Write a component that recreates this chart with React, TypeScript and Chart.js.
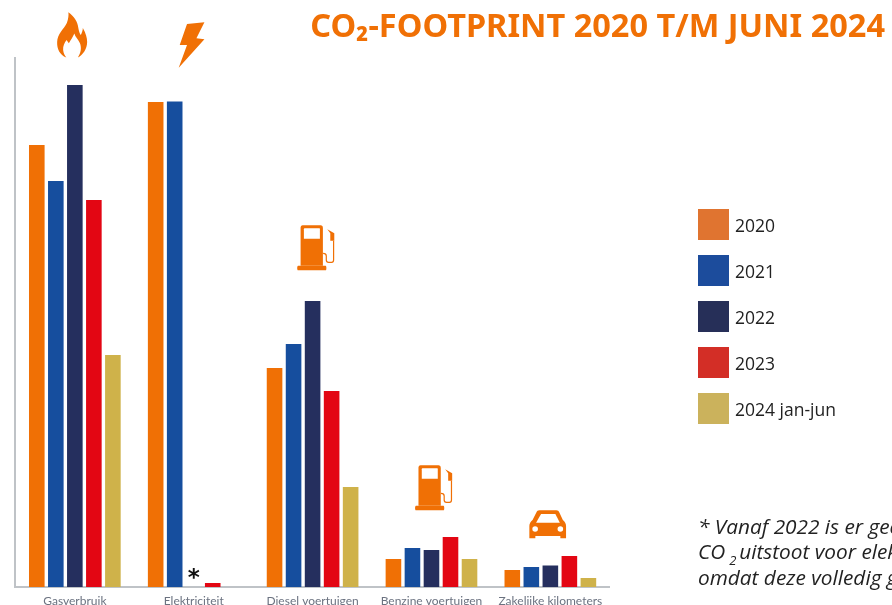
import React, { useEffect, useRef } from "react";
import { Chart, registerables } from "chart.js";

Chart.register(...registerables);

const categories = ["Gasverbruik", "Elektriciteit", "Diesel voertuigen", "Benzine voertuigen", "Zakelijke kilometers"];
const seriesNames = ["2020", "2021", "2022", "2023", "2024 jan-jun"];
const v2020 = [442, 485, 219, 28, 17];
const v2021 = [406, 485.5, 243, 39, 20];
const v2022 = [502, 0, 286, 37, 21.5];
const v2023 = [387, 4, 196, 50, 31];
const v2024 = [232, null, 100, 28, 9];
const barColors = ["#F07005", "#164E9E", "#252F5E", "#E30613", "#CFB24A"];
const legendColors = ["#E07430", "#1C4C9C", "#262F58", "#D32E26", "#CBB25C"];
const titleText = "CO₂-FOOTPRINT 2020 T/M JUNI 2024";
const ORANGE = "#F07005";

const drawFlame = (c: CanvasRenderingContext2D) => {
  c.fillStyle = ORANGE;
  c.fill(new Path2D("M9.5 45.5C3 43 0 37 .3 30C.5 22 7 17 10 11C11.5 7 12 3 11.5 .3C17 4 21 10 21.5 16C22 19 23 22 24 23C25 21 26 18 26 16C29 21 30.3 26 30.3 30C30.3 37 26 43 21 45.5C24 41 25 36 23 31C21 27 18.5 25 17.5 21.5C16 25 14 28 12 31.3L9.7 28C7.5 31 6 34 6.3 38C6.6 41 8 44 9.5 45.5Z"));
};
const drawBolt = (c: CanvasRenderingContext2D) => {
  c.fillStyle = ORANGE;
  c.fill(new Path2D("M8.3 2L25.7 .3L17.7 16.3L25.7 17.3L0 45.7L8.3 23L1 23Z"));
};
const drawPump = (c: CanvasRenderingContext2D) => {
  c.fillStyle = ORANGE;
  c.fill(new Path2D("M6 .3H24C25.5 .3 26.3 1.3 26.3 3V40.7H4V3C4 1.3 4.8 .3 6 .3Z"));
  c.fill(new Path2D("M1.5 40.7H29C30 40.7 30 45.3 29 45.3H1.5C.3 45.3 .3 40.7 1.5 40.7Z"));
  c.fill(new Path2D("M30.7 4.3L37.7 8.3V15.7H33.7V8.3Z"));
  c.fillStyle = "#FFFFFF";
  c.fill(new Path2D("M8 3.3H22.6C23.2 3.3 23.3 3.6 23.3 4.2V13.7H7.3V4.2C7.3 3.6 7.5 3.3 8 3.3Z"));
  c.strokeStyle = ORANGE;
  c.lineWidth = 1.2;
  c.stroke(new Path2D("M26.5 28.3C28.8 28.3 29.7 29 29.7 31V35C29.7 36.6 30.5 37.3 32 37.3H35C36.5 37.3 37 36.6 37 35V15.7"));
};
const drawCar = (c: CanvasRenderingContext2D) => {
  c.fillStyle = ORANGE;
  c.fill(new Path2D("M10 .3H27C28.5 .3 29.3 1 30 2.5L33.5 10C35.5 11.5 36.7 13.5 36.7 16V28.3H31V26H6V28.3H0V16C0 13.5 1.2 11.5 3.2 10L7 2.5C7.7 1 8.5 .3 10 .3Z"));
  c.fillStyle = "#FFFFFF";
  c.fill(new Path2D("M11.7 4H26L30.5 12.7H6.7Z"));
  c.beginPath(); c.arc(5.8, 19, 2.8, 0, Math.PI * 2); c.fill();
  c.beginPath(); c.arc(31, 19, 2.8, 0, Math.PI * 2); c.fill();
};

const iconDraw = [drawFlame, drawBolt, drawPump, drawPump, drawCar];
const iconOffsets = [-18, -15, -16, -17, -21];
const iconTopValues = [575, 565, 362, 122, 77];

const footnotePlugin = {
  id: "extras",
  afterLayout(chart: any) {
    const t = chart.titleBlock;
    if (t) { t.right = 885; }
    const l = chart.legend;
    if (l) {
      l.left = 698 - l.options.labels.padding;
      l.top = 316.5 - l.height / 2;
      l.right = l.left + l.width;
      l.bottom = l.top + l.height;
      if (!l.__shifted) {
        l.__shifted = true;
        const draw = l.draw;
        l.draw = function () {
          const ctx = chart.ctx;
          const fill = ctx.fillText;
          ctx.fillText = (s: string, px: number, py: number, m?: number) =>
            m === undefined ? fill.call(ctx, s, px - 2.75, py + 2.5) : fill.call(ctx, s, px - 2.75, py + 2.5, m);
          draw.call(this);
          delete ctx.fillText;
        };
      }
    }
  },
  afterDraw(chart: any) {
    const c: CanvasRenderingContext2D = chart.ctx;
    const x = chart.scales.x;
    const y = chart.scales.y;
    iconDraw.forEach((draw, i) => {
      c.save();
      c.translate(x.getPixelForValue(i) + iconOffsets[i], y.getPixelForValue(iconTopValues[i]));
      draw(c);
      c.restore();
    });
    c.save();
    c.fillStyle = "#111111";
    c.textAlign = "center";
    c.textBaseline = "alphabetic";
    c.font = 'bold 23px "DejaVu Sans"';
    c.fillText("*", x.getPixelForValue(1), y.getPixelForValue(12) + 9.9);
    c.restore();

    c.save();
    c.fillStyle = "#222222";
    c.textAlign = "left";
    c.font = 'italic 20.8px "Open Sans"';
    c.fillText("* Vanaf 2022 is er geen", 698, 534);
    c.fillText("CO", 698, 559);
    const w = c.measureText("CO").width;
    c.font = 'italic 13px "Open Sans"';
    c.fillText("2", 698 + w + 4, 565);
    c.font = 'italic 20.8px "Open Sans"';
    c.fillText("uitstoot voor elektriciteit", 698 + w + 14, 559);
    c.fillText("omdat deze volledig groen is", 698, 584.5);
    c.restore();
  },
};

export default function App() {
  const ref = useRef<HTMLCanvasElement>(null);
  useEffect(() => {
    if (!ref.current) return;
    const values = [v2020, v2021, v2022, v2023, v2024];
    const chart = new Chart(ref.current, {
      type: "bar",
      data: {
        labels: categories,
        datasets: seriesNames.map((name, i) => ({
          label: name,
          data: values[i],
          backgroundColor: barColors[i],
          categoryPercentage: 0.8,
          barPercentage: 0.82,
        })),
      },
      options: {
        animation: false,
        responsive: false,
        layout: { padding: { left: 15.4, right: 116.5, top: 0, bottom: 0 } },
        plugins: {
          tooltip: { enabled: false },
          title: {
            display: true,
            text: titleText,
            align: "end",
            color: ORANGE,
            font: { family: '"Noto Sans"', size: 32.5, weight: "bold", lineHeight: 1.2 },
            padding: { top: 8, bottom: 11 },
          },
          legend: {
            display: true,
            position: "right",
            align: "center",
            maxWidth: 300,
            labels: {
              boxWidth: 31,
              boxHeight: 31,
              padding: 15,
              color: "#222222",
              font: { family: '"Open Sans"', size: 17.5 },
              generateLabels: () =>
                seriesNames.map((n, i) => ({
                  text: n,
                  fillStyle: legendColors[i],
                  strokeStyle: legendColors[i],
                  lineWidth: 0,
                  datasetIndex: i,
                  fontColor: "#222222",
                })),
            },
          },
        },
        scales: {
          x: {
            grid: { display: false, drawTicks: false },
            border: { color: "#BFC3C7", width: 2 },
            ticks: {
              color: "#6B7280",
              font: { family: "Lato", size: 12 },
              padding: 7,
              maxRotation: 0,
              autoSkip: false,
            },
            afterFit: (s: any) => { s.height = 18; },
          },
          y: {
            min: 0,
            max: 529,
            grid: { display: false, drawTicks: false },
            border: { color: "#BFC3C7", width: 2 },
            ticks: { display: false },
            afterFit: (s: any) => { s.width = 0; },
          },
        },
      },
      plugins: [footnotePlugin],
    } as any);
    return () => chart.destroy();
  }, []);
  return (
    <div style={{ position: "absolute", left: 0, top: 0, width: 892, height: 605, overflow: "hidden", background: "#fff" }}>
      <canvas ref={ref} width={892} height={605} style={{ display: "block" }} />
    </div>
  );
}
